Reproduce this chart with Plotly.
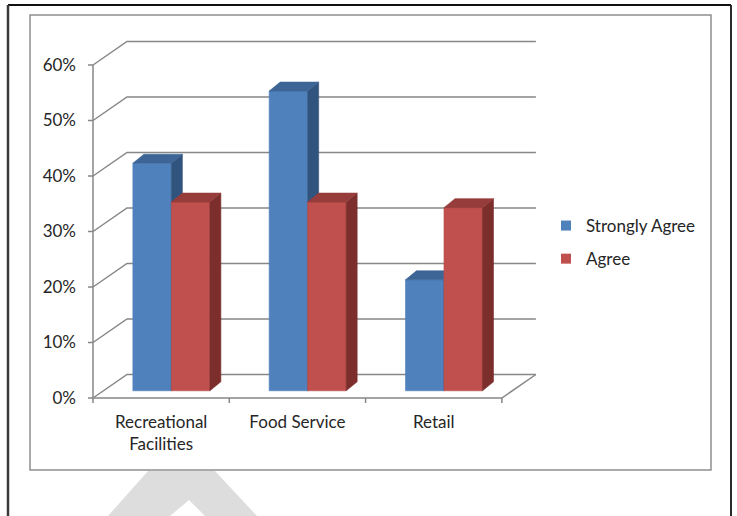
import plotly.graph_objects as go

# ---- data -------------------------------------------------------------
categories = ["Recreational<br>Facilities", "Food Service", "Retail"]
strongly_agree = [41, 54, 20]
agree = [34, 34, 33]
series_names = ["Strongly Agree", "Agree"]
y_ticks = [0, 10, 20, 30, 40, 50, 60]
y_tick_labels = ["0%", "10%", "20%", "30%", "40%", "50%", "60%"]

# ---- page / plot-area geometry (pixels) --------------------------------
W, H = 737, 516
PLOT_L, PLOT_R, PLOT_T, PLOT_B = 80, 545, 30, 410
X_PX = 136.3            # pixels per category
Y_PX = 5.55             # pixels per percentage point
ORIGIN_PX = (93, 398)   # front-left floor corner

def paper_x(px):
    return (px - PLOT_L) / (PLOT_R - PLOT_L)

def paper_y(py):
    return (PLOT_B - py) / (PLOT_B - PLOT_T)

x_range = [-0.5 - (ORIGIN_PX[0] - PLOT_L) / X_PX, -0.5 + (PLOT_R - ORIGIN_PX[0]) / X_PX]
y_range = [-(PLOT_B - ORIGIN_PX[1]) / Y_PX, (ORIGIN_PX[1] - PLOT_T) / Y_PX]

# oblique projection of the box (floor depth) and of the columns
DEPTH_X, DEPTH_Y = 34 / X_PX, 23.5 / Y_PX
BAR_SHIFT_X, BAR_BASE = 0.075, 1.3
BAR_W = 38.5 / X_PX
EXT_X, EXT_Y = 11 / X_PX, 9 / Y_PX

GRID = "#878787"
TEXT = "#262626"
FONT = "Lato"
FONT_SIZE = 17

fig = go.Figure()

# ---- walls, gridlines, axis lines, tick marks ---------------------------
n = len(categories)
gx, gy = [], []
for v in y_ticks:
    gx += [-0.5, -0.5 + DEPTH_X, n - 0.5 + DEPTH_X, None]
    gy += [v, v + DEPTH_Y, v + DEPTH_Y, None]
    gx += [-0.5 - 5 / X_PX, -0.5, None]
    gy += [v, v, None]
gx += [-0.5, -0.5, None]
gy += [y_ticks[0], y_ticks[-1], None]
gx += [-0.5, n - 0.5, n - 0.5 + DEPTH_X, None]
gy += [0, 0, DEPTH_Y, None]
for k in range(n + 1):
    gx += [k - 0.5, k - 0.5, None]
    gy += [0, -5 / Y_PX, None]
fig.add_trace(go.Scatter(x=gx, y=gy, mode="lines", line=dict(color=GRID, width=1.5),
                         showlegend=False, hoverinfo="skip"))

# ---- 3-D columns --------------------------------------------------------
palettes = [
    dict(front="#4F81BD", top="#3D6596", side="#31547F"),
    dict(front="#C0504D", top="#963C3A", side="#7C2E2C"),
]

def faces(values, offset):
    front_x, front_y, top_x, top_y, side_x, side_y = [], [], [], [], [], []
    for i, v in enumerate(values):
        c = i + BAR_SHIFT_X
        xl = c - BAR_W + offset * BAR_W
        xr = xl + BAR_W
        b, t = BAR_BASE, BAR_BASE + v
        front_x += [xl, xr, xr, xl, xl, None]
        front_y += [b, b, t, t, b, None]
        top_x += [xl, xr, xr + EXT_X, xl + EXT_X, xl, None]
        top_y += [t, t, t + EXT_Y, t + EXT_Y, t, None]
        side_x += [xr, xr + EXT_X, xr + EXT_X, xr, xr, None]
        side_y += [b, b + EXT_Y, t + EXT_Y, t, b, None]
    return (front_x, front_y), (side_x, side_y), (top_x, top_y)

for s, (values, pal) in enumerate(zip([strongly_agree, agree], palettes)):
    front, side, top = faces(values, s)
    for (fx, fy), key in ((front, "front"), (side, "side"), (top, "top")):
        fig.add_trace(go.Scatter(
            x=fx, y=fy, mode="lines", fill="toself", fillcolor=pal[key],
            line=dict(color=pal[key], width=0.6), showlegend=False, hoverinfo="skip"))

# legend entries
for s, (name, pal) in enumerate(zip(series_names, palettes)):
    fig.add_trace(go.Scatter(
        x=[None], y=[None], mode="markers", name=name, legendgroup=name,
        marker=dict(symbol="square", size=10, color=pal["front"])))

# ---- page decoration: outer border, chart frame, watermark --------------
shapes = []
wm = [(108, 516), (148, 471), (215, 471), (257, 516), (205, 516), (189, 500), (170, 516)]
path = "M" + " L".join(f"{paper_x(px):.5f},{paper_y(py):.5f}" for px, py in wm) + " Z"
shapes.append(dict(type="path", xref="paper", yref="paper", path=path,
                   fillcolor="#DDDDDD", line=dict(width=0), layer="below"))
shapes.append(dict(type="rect", xref="paper", yref="paper",
                   x0=paper_x(30), x1=paper_x(711), y0=paper_y(470), y1=paper_y(15),
                   line=dict(color="#8F8F8F", width=1.5), layer="below"))
for (x0, y0, x1, y1, col, w) in [(8, 5, 731, 5, "#111111", 2),
                                 (8, 5, 8, 520, "#3A3A3A", 2.5),
                                 (731, 5, 731, 520, "#2A2A2A", 2)]:
    shapes.append(dict(type="line", xref="paper", yref="paper",
                       x0=paper_x(x0), x1=paper_x(x1), y0=paper_y(y0), y1=paper_y(y1),
                       line=dict(color=col, width=w)))

fig.update_layout(
    width=W, height=H,
    margin=dict(l=PLOT_L, r=W - PLOT_R, t=PLOT_T, b=H - PLOT_B, pad=0),
    paper_bgcolor="white", plot_bgcolor="white",
    font=dict(family=FONT, size=FONT_SIZE, color=TEXT),
    hovermode=False,
    shapes=shapes,
    xaxis=dict(range=x_range, tickvals=list(range(n)), ticktext=categories,
               showgrid=False, zeroline=False, showline=False, ticks="",
               fixedrange=True),
    yaxis=dict(range=y_range, tickvals=y_ticks, ticktext=y_tick_labels,
               showgrid=False, zeroline=False, showline=False, ticks="",
               ticklabelstandoff=3, fixedrange=True),
    legend=dict(x=paper_x(546), y=paper_y(208), xanchor="left", yanchor="top",
                bgcolor="rgba(0,0,0,0)", tracegroupgap=8, traceorder="grouped",
                font=dict(family=FONT, size=FONT_SIZE, color=TEXT)),
)

fig.write_html("out.html")
